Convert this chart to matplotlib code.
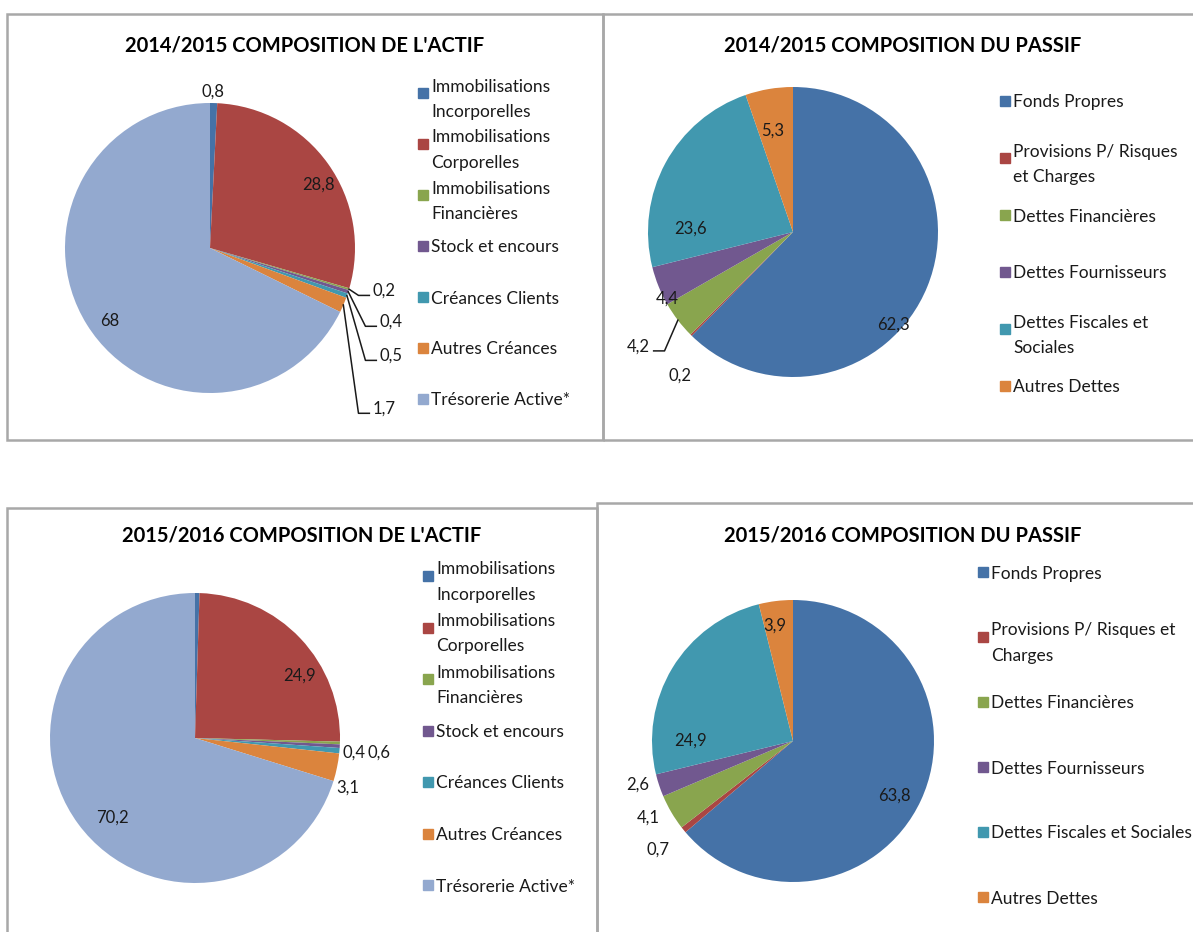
import matplotlib.pyplot as plt
import numpy as np
from matplotlib.patches import Rectangle

plt.rcParams['font.family'] = ['Lato', 'DejaVu Sans']

W, H = 1193, 932

# data
actif_labels = ["Immobilisations\nIncorporelles", "Immobilisations\nCorporelles",
                "Immobilisations\nFinancières", "Stock et encours", "Créances Clients",
                "Autres Créances", "Trésorerie Active*"]
actif_2015 = [0.8, 28.8, 0.2, 0.4, 0.5, 1.7, 68]
actif_2016 = [0.5, 24.9, 0.3, 0.4, 0.6, 3.1, 70.2]
actif_2016_shown = [False, True, False, True, True, True, True]

passif_labels_2015 = ["Fonds Propres", "Provisions P/ Risques\net Charges", "Dettes Financières",
                      "Dettes Fournisseurs", "Dettes Fiscales et\nSociales", "Autres Dettes"]
passif_labels_2016 = ["Fonds Propres", "Provisions P/ Risques et\nCharges", "Dettes Financières",
                      "Dettes Fournisseurs", "Dettes Fiscales et Sociales", "Autres Dettes"]
passif_2015 = [62.3, 0.2, 4.2, 4.4, 23.6, 5.3]
passif_2016 = [63.8, 0.7, 4.1, 2.6, 24.9, 3.9]

titles = ["2014/2015 COMPOSITION DE L'ACTIF", "2014/2015 COMPOSITION DU PASSIF",
          "2015/2016 COMPOSITION DE L'ACTIF", "2015/2016 COMPOSITION DU PASSIF"]

actif_colors = ['#4572A7', '#AA4643', '#89A54E', '#71588F', '#4198AF', '#DB843D', '#93A9CF']
passif_colors = ['#4572A7', '#AA4643', '#89A54E', '#71588F', '#4198AF', '#DB843D']

fig = plt.figure(figsize=(W / 100, H / 100), dpi=100)


def fx(x):
    return x / W


def fy(y):
    return 1 - y / H


def box(x0, y0, x1, y1):
    fig.patches.append(Rectangle((fx(x0), fy(y1)), (x1 - x0) / W, (y1 - y0) / H,
                                 transform=fig.transFigure, fill=False,
                                 ec='#A8A8A8', lw=1.8))


def fmt(v):
    return f"{v:g}".replace('.', ',')


def draw_pie(cx, cy, r, values, colors, pos, shown=None, leaders=None):
    ax = fig.add_axes([(cx - r) / W, 1 - (cy + r) / H, 2 * r / W, 2 * r / H])
    wedges, _ = ax.pie(values, colors=colors, startangle=90, counterclock=False,
                       wedgeprops=dict(linewidth=0))
    ax.set_xlim(-1, 1)
    ax.set_ylim(-1, 1)
    leaders = leaders or {}
    for i, v in enumerate(values):
        if shown is not None and not shown[i]:
            continue
        x, y, ha = pos[i]
        ax.text(x, y, fmt(v), ha=ha, va='center', fontsize=12, color='#1a1a1a')
        if i in leaders:
            w = wedges[i]
            a = np.deg2rad((w.theta1 + w.theta2) / 2)
            ex, ey = np.cos(a), np.sin(a)
            if leaders[i] == 'right':
                xs = [ex, x - 0.1, x - 0.025]
            else:
                xs = [ex, x + 0.1, x + 0.025]
            ys = [ey, y - 0.03, y - 0.03]
            ax.plot(xs, ys, color='#1a1a1a', lw=1.1, clip_on=False)
    return ax


def draw_legend(xm, y0, step, labels, colors, ls=1.7):
    for i, (lab, c) in enumerate(zip(labels, colors)):
        y = y0 + i * step
        fig.patches.append(Rectangle((fx(xm), fy(y + 5)), 10 / W, 10 / H,
                                     transform=fig.transFigure, color=c))
        fig.text(fx(xm + 13), fy(y), lab, ha='left', va='center_baseline',
                 fontsize=12.5, color='#1a1a1a', linespacing=ls)


# panel frames
box(7, 14, 603, 440)
box(603, 14, 1205, 440)
box(7, 508, 597, 945)
box(597, 503, 1205, 945)

# titles
fig.text(fx(305), fy(45), titles[0], ha='center', va='center', fontsize=14.5, fontweight='bold')
fig.text(fx(903), fy(45), titles[1], ha='center', va='center', fontsize=14.5, fontweight='bold')
fig.text(fx(302), fy(536), titles[2], ha='center', va='center', fontsize=14.5, fontweight='bold')
fig.text(fx(903), fy(535), titles[3], ha='center', va='center', fontsize=14.5, fontweight='bold')

# 2014/2015 actif
draw_pie(210, 248, 145, actif_2015, actif_colors,
         [(0.02, 1.08, 'center'), (0.745, 0.434, 'center'), (1.124, -0.297, 'left'),
          (1.172, -0.51, 'left'), (1.172, -0.745, 'left'), (1.124, -1.11, 'left'),
          (-0.69, -0.50, 'center')],
         leaders={2: 'right', 3: 'right', 4: 'right', 5: 'right'})
draw_legend(418, 93, 51, actif_labels, actif_colors)

# 2014/2015 passif
draw_pie(793, 232, 145, passif_2015, passif_colors,
         [(0.69, -0.64, 'center'), (-0.78, -0.99, 'center'), (-0.986, -0.79, 'right'),
          (-0.87, -0.46, 'center'), (-0.71, 0.02, 'center'), (-0.14, 0.70, 'center')],
         leaders={2: 'left'})
draw_legend(1000, 101, 57, passif_labels_2015, passif_colors)

# 2015/2016 actif
draw_pie(195, 738, 145, actif_2016, actif_colors,
         [None, (0.72, 0.43, 'center'), None, (1.02, -0.10, 'left'),
          (1.19, -0.10, 'left'), (1.055, -0.34, 'center'), (-0.57, -0.55, 'center')],
         shown=actif_2016_shown)
draw_legend(423, 576, 51.5, actif_labels, actif_colors)

# 2015/2016 passif
draw_pie(793, 741, 141, passif_2016, passif_colors,
         [(0.72, -0.39, 'center'), (-0.96, -0.77, 'center'), (-1.03, -0.54, 'center'),
          (-1.10, -0.31, 'center'), (-0.73, 0.0, 'center'), (-0.13, 0.82, 'center')])
draw_legend(978, 572, 65, passif_labels_2016, passif_colors)

fig.savefig('out.png', dpi=100)
